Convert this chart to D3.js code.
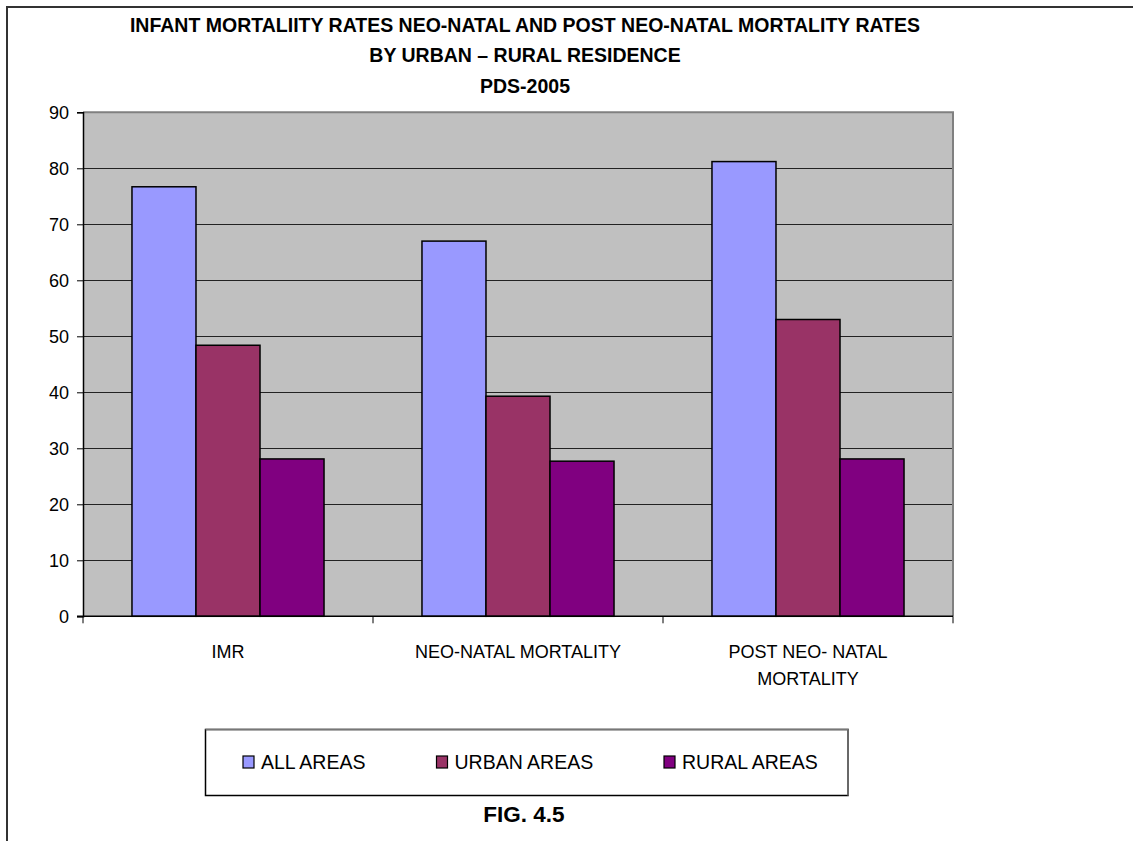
<!DOCTYPE html>
<html>
<head>
<meta charset="utf-8">
<script src="https://cdn.jsdelivr.net/npm/d3@7/dist/d3.min.js"></script>
<style>
  html, body { margin: 0; padding: 0; background: #fff; }
  svg { display: block; font-family: "Liberation Sans", Arial, sans-serif; }
</style>
</head>
<body>
<svg id="chart" width="1133" height="841"></svg>
<script>
// Mortality rates by residence, PDS-2005
const categories = ["IMR", "NEO-NATAL MORTALITY", "POST NEO- NATAL MORTALITY"];
const categoryLines = [["IMR"], ["NEO-NATAL MORTALITY"], ["POST NEO- NATAL", "MORTALITY"]];
const seriesNames = ["ALL AREAS", "URBAN AREAS", "RURAL AREAS"];
const allAreas = [76.7, 67.0, 81.2];
const urbanAreas = [48.4, 39.3, 53.0];
const ruralAreas = [28.1, 27.7, 28.1];
const yTicks = [0, 10, 20, 30, 40, 50, 60, 70, 80, 90];
const titleLines = [
  "INFANT MORTALIITY RATES NEO-NATAL AND POST NEO-NATAL MORTALITY RATES",
  "BY URBAN \u2013 RURAL RESIDENCE",
  "PDS-2005"
];
const figLabel = "FIG. 4.5";

const seriesValues = [allAreas, urbanAreas, ruralAreas];
const colors = ["#9999FF", "#993366", "#800080"];

const svg = d3.select("#chart");

// outer frame
svg.append("rect")
  .attr("x", 7).attr("y", 7).attr("width", 1140).attr("height", 850)
  .attr("fill", "none").attr("stroke", "#333").attr("stroke-width", 2);

// title
svg.append("g").selectAll("text").data(titleLines).join("text")
  .attr("x", 525).attr("y", (d, i) => [32, 62, 93][i])
  .attr("text-anchor", "middle")
  .attr("font-weight", "bold").attr("font-size", 19.5)
  .attr("fill", "#000")
  .text(d => d);

const plot = { left: 83, right: 953, top: 112.3, bottom: 616.3 };

const x0 = d3.scaleBand().domain(categories).range([plot.left, plot.right]).paddingInner(0).paddingOuter(0);
const x1 = d3.scaleBand().domain(seriesNames).range([0, x0.bandwidth()]).paddingInner(0).paddingOuter(0.765);
const y = d3.scaleLinear().domain([0, 90]).range([plot.bottom, plot.top]);

// plot background
svg.append("rect")
  .attr("x", plot.left).attr("y", plot.top)
  .attr("width", plot.right - plot.left).attr("height", plot.bottom - plot.top)
  .attr("fill", "#C0C0C0");

// gridlines
svg.append("g").selectAll("line").data(yTicks.filter(t => t > 0 && t < 90)).join("line")
  .attr("x1", plot.left).attr("x2", plot.right)
  .attr("y1", d => Math.round(y(d)) + 0.5).attr("y2", d => Math.round(y(d)) + 0.5)
  .attr("stroke", "#222").attr("stroke-width", 1);

// plot frame top and right
svg.append("path")
  .attr("d", `M${plot.left},${plot.top}H${plot.right}V${plot.bottom}`)
  .attr("fill", "none").attr("stroke", "#808080").attr("stroke-width", 2);

// bars
const groups = svg.append("g").selectAll("g").data(categories).join("g")
  .attr("transform", d => `translate(${x0(d)},0)`);
groups.selectAll("rect")
  .data((c, ci) => seriesNames.map((s, si) => ({ s, si, v: seriesValues[si][ci] })))
  .join("rect")
  .attr("x", d => x1(d.s))
  .attr("y", d => y(d.v))
  .attr("width", x1.bandwidth())
  .attr("height", d => y(0) - y(d.v))
  .attr("fill", d => colors[d.si])
  .attr("stroke", "#000").attr("stroke-width", 1.5);

// y axis
const yAxis = svg.append("g")
  .attr("transform", `translate(${plot.left},0)`)
  .call(d3.axisLeft(y).tickValues(yTicks).tickSize(6).tickPadding(8));
yAxis.select(".domain").attr("stroke", "#000").attr("stroke-width", 1.5);
yAxis.selectAll(".tick line").attr("stroke", "#000");
yAxis.selectAll("text").attr("font-size", 18).attr("fill", "#000")
  .attr("font-family", "Liberation Sans, Arial, sans-serif");

// x axis with ticks at category boundaries
const xAxisG = svg.append("g");
xAxisG.append("line")
  .attr("x1", plot.left - 6).attr("x2", plot.right)
  .attr("y1", plot.bottom).attr("y2", plot.bottom)
  .attr("stroke", "#000").attr("stroke-width", 1.5);
const boundaries = categories.map(c => x0(c)).concat([x0.range()[1]]);
xAxisG.selectAll("line.tk").data(boundaries).join("line").attr("class", "tk")
  .attr("x1", d => d).attr("x2", d => d)
  .attr("y1", plot.bottom).attr("y2", plot.bottom + 7)
  .attr("stroke", "#000");
xAxisG.selectAll("text.cat").data(categories).join("text").attr("class", "cat")
  .attr("x", d => x0(d) + x0.bandwidth() / 2)
  .attr("text-anchor", "middle")
  .attr("font-size", 18).attr("fill", "#000")
  .each(function(d, i) {
    const t = d3.select(this);
    categoryLines[i].forEach((line, li) => {
      t.append("tspan")
        .attr("x", x0(d) + x0.bandwidth() / 2)
        .attr("y", 658 + li * 27)
        .text(line);
    });
  });

// legend
const legend = svg.append("g");
legend.append("rect")
  .attr("x", 205.5).attr("y", 729.5).attr("width", 642.5).attr("height", 66)
  .attr("fill", "#fff").attr("stroke", "#000").attr("stroke-width", 1.5);
legend.append("path")
  .attr("d", "M205.5,729.5H848V795.5")
  .attr("fill", "none").attr("stroke", "#777").attr("stroke-width", 1.5);
const legendX = [243, 436.5, 664];
const items = legend.selectAll("g").data(seriesNames).join("g")
  .attr("transform", (d, i) => `translate(${legendX[i]},756)`);
items.append("rect")
  .attr("width", 11).attr("height", 12)
  .attr("fill", (d, i) => colors[i]).attr("stroke", "#000").attr("stroke-width", 1.2);
items.append("text")
  .attr("x", 18).attr("y", 13)
  .attr("font-size", 19.5).attr("fill", "#000")
  .text(d => d);

// figure label
svg.append("text")
  .attr("x", 524).attr("y", 822)
  .attr("text-anchor", "middle")
  .attr("font-weight", "bold").attr("font-size", 22.5)
  .text(figLabel);
</script>
</body>
</html>
